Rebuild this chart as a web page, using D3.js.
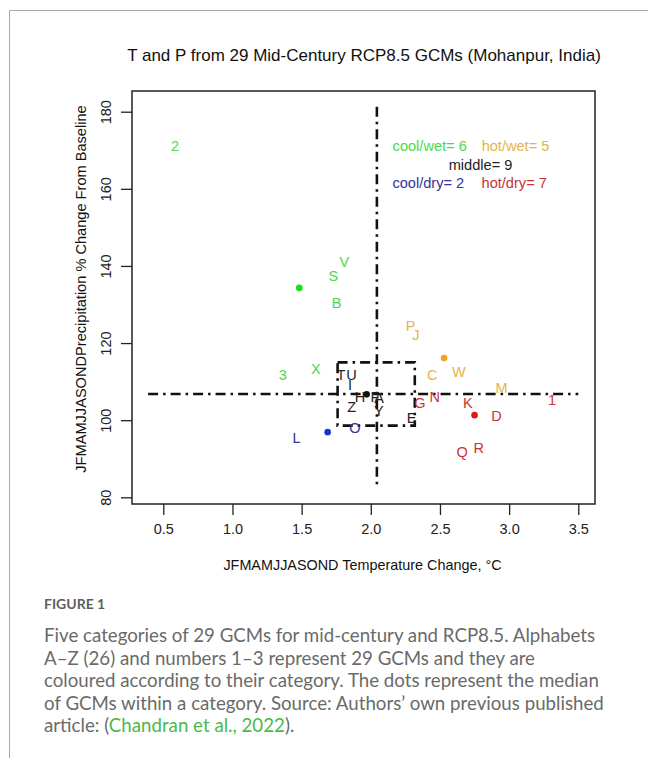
<!DOCTYPE html>
<html>
<head>
<meta charset="utf-8">
<script src="https://cdn.jsdelivr.net/npm/d3@7"></script>
<style>
  body { margin: 0; background: #fff; }
  svg { display: block; }
</style>
</head>
<body>
<svg></svg>
<script>
// GCM labels, temperature change (°C) and precipitation change (%)
var labels = ['2', 'V', 'S', 'B', '3', 'X',
              'P', 'J', 'C', 'W', 'M',
              'T', 'U', 'I', 'H', 'F', 'A', 'Z', 'Y', 'E',
              'O', 'L',
              '1', 'K', 'D', 'Q', 'R', 'N', 'G']
var tempChange = [0.585, 1.808, 1.729, 1.753, 1.363, 1.603,
                  2.288, 2.326, 2.444, 2.637, 2.945,
                  1.784, 1.861, 1.849, 1.921, 2.030, 2.060, 1.861, 2.058, 2.295,
                  1.885, 1.464,
                  3.311, 2.702, 2.909, 2.660, 2.781, 2.463, 2.355]
var precipChange = [171.1, 140.9, 137.5, 130.3, 111.7, 113.4,
                    124.4, 122.1, 111.7, 112.4, 108.3,
                    111.7, 111.7, 109.1, 105.9, 106.1, 105.7, 103.3, 102.4, 100.5,
                    97.9, 95.3,
                    105.2, 104.5, 101.2, 91.8, 92.9, 106.1, 104.4]
var category = ['cool/wet', 'cool/wet', 'cool/wet', 'cool/wet', 'cool/wet', 'cool/wet',
                'hot/wet', 'hot/wet', 'hot/wet', 'hot/wet', 'hot/wet',
                'middle', 'middle', 'middle', 'middle', 'middle', 'middle', 'middle', 'middle', 'middle',
                'cool/dry', 'cool/dry',
                'hot/dry', 'hot/dry', 'hot/dry', 'hot/dry', 'hot/dry', 'hot/dry', 'hot/dry']

// category medians (the dots)
var medianCat = ['cool/wet', 'hot/wet', 'middle', 'cool/dry', 'hot/dry']
var medianT = [1.483, 2.530, 1.970, 1.688, 2.750]
var medianP = [134.3, 116.1, 106.7, 96.9, 101.3]

var xTicks = [0.5, 1.0, 1.5, 2.0, 2.5, 3.0, 3.5]
var yTicks = [80, 100, 120, 140, 160, 180]

// threshold lines and middle box
var vLine = {x: 2.044, y0: 82.2, y1: 181.3}
var hLine = {y: 106.8, x0: 0.39, x1: 3.5}
var boxT = [1.76, 2.318], boxP = [98.6, 115.0]

var textColor = {'cool/wet': '#4cd84c', 'hot/wet': '#e5b34b', 'middle': '#222222',
                 'cool/dry': '#33339c', 'hot/dry': '#c93434'}
var dotColor = {'cool/wet': '#14e014', 'hot/wet': '#f0a326', 'middle': '#111111',
                'cool/dry': '#1534d8', 'hot/dry': '#e51616'}

var svgWidth = 648, svgHeight = 758
var frame = {left: 132, right: 595, top: 91, bottom: 504}
var plotFont = '"Liberation Sans", Arial, sans-serif'

var svg = d3.select('svg')
    .attr('width', svgWidth)
    .attr('height', svgHeight)
    .style('font-family', plotFont)

// page border (journal layout)
svg.append('path')
    .attr('d', 'M9.5,758 V10.5 H648')
    .attr('fill', 'none')
    .attr('stroke', '#a8a8a8')
    .attr('stroke-width', 1)

var xScale = d3.scaleLinear().domain([0.5, 3.5]).range([163.3, 578.3])
var yScale = d3.scaleLinear().domain([80, 180]).range([497.3, 111.7])

// title
svg.append('text')
    .attr('x', 364).attr('y', 55)
    .attr('text-anchor', 'middle').attr('dominant-baseline', 'central')
    .style('font-size', '17px').style('fill', '#111')
    .text('T and P from 29 Mid-Century RCP8.5 GCMs (Mohanpur, India)')

// plot frame
svg.append('rect')
    .attr('x', frame.left).attr('y', frame.top)
    .attr('width', frame.right - frame.left).attr('height', frame.bottom - frame.top)
    .attr('fill', 'none').attr('stroke', '#222').attr('stroke-width', 1.5)

// axes
var xAxis = svg.append('g')
    .attr('transform', 'translate(0,' + frame.bottom + ')')
    .call(d3.axisBottom(xScale).tickValues(xTicks).tickFormat(d3.format('.1f'))
        .tickSize(11).tickSizeOuter(0).tickPadding(9))
xAxis.select('.domain').remove()
xAxis.selectAll('line').attr('stroke', '#222').attr('stroke-width', 1.3)
xAxis.selectAll('text').style('font-size', '14.5px').style('fill', '#222')
    .style('font-family', plotFont)

var yAxis = svg.append('g')
    .attr('transform', 'translate(' + frame.left + ',0)')
    .call(d3.axisLeft(yScale).tickValues(yTicks).tickSize(11).tickSizeOuter(0))
yAxis.select('.domain').remove()
yAxis.selectAll('line').attr('stroke', '#222').attr('stroke-width', 1.3)
yAxis.selectAll('text')
    .attr('x', 0).attr('dy', null)
    .attr('text-anchor', 'middle').attr('dominant-baseline', 'central')
    .attr('transform', 'translate(-26,0) rotate(-90)')
    .style('font-size', '14.5px').style('fill', '#222')
    .style('font-family', plotFont)

// axis titles
svg.append('text')
    .attr('x', 362.5).attr('y', 565)
    .attr('text-anchor', 'middle').attr('dominant-baseline', 'central')
    .style('font-size', '14.4px').style('fill', '#111')
    .text('JFMAMJJASOND Temperature Change, \u00B0C')

svg.append('text')
    .attr('transform', 'translate(81,' + 289 + ') rotate(-90)')
    .attr('text-anchor', 'middle').attr('dominant-baseline', 'central')
    .style('font-size', '14.6px').style('fill', '#111')
    .text('JFMAMJJASONDPrecipitation % Change From Baseline')

// dot-dash threshold lines
var dash = '10,5,2.5,5'
svg.append('line')
    .attr('x1', xScale(vLine.x)).attr('x2', xScale(vLine.x))
    .attr('y1', yScale(vLine.y1)).attr('y2', yScale(vLine.y0))
    .attr('stroke', '#111').attr('stroke-width', 2.6).attr('stroke-dasharray', dash)
svg.append('line')
    .attr('x1', xScale(hLine.x0)).attr('x2', xScale(hLine.x1))
    .attr('y1', yScale(hLine.y)).attr('y2', yScale(hLine.y))
    .attr('stroke', '#111').attr('stroke-width', 2.6).attr('stroke-dasharray', dash)
svg.append('rect')
    .attr('x', xScale(boxT[0])).attr('y', yScale(boxP[1]))
    .attr('width', xScale(boxT[1]) - xScale(boxT[0]))
    .attr('height', yScale(boxP[0]) - yScale(boxP[1]))
    .attr('fill', 'none')
    .attr('stroke', '#111').attr('stroke-width', 2.6).attr('stroke-dasharray', dash)

// GCM letters
var pts = labels.map(function(d, i) {
    return {label: d, t: tempChange[i], p: precipChange[i], cat: category[i]}
})
svg.selectAll('text.gcm')
    .data(pts)
    .enter()
    .append('text')
    .attr('class', 'gcm')
    .attr('x', function(d) { return xScale(d.t) })
    .attr('y', function(d) { return yScale(d.p) })
    .attr('text-anchor', 'middle').attr('dominant-baseline', 'central')
    .style('font-size', '14.5px')
    .style('fill', function(d) { return textColor[d.cat] })
    .text(function(d) { return d.label })

// median dots
svg.selectAll('circle.median')
    .data(medianCat)
    .enter()
    .append('circle')
    .attr('class', 'median')
    .attr('cx', function(d, i) { return xScale(medianT[i]) })
    .attr('cy', function(d, i) { return yScale(medianP[i]) })
    .attr('r', 3.3)
    .style('fill', function(d) { return dotColor[d] })

// legend counts
var counts = d3.rollup(category, function(v) { return v.length }, function(d) { return d })
var legendItems = [
    {cat: 'cool/wet', x: 429.7, y: 146},
    {cat: 'hot/wet', x: 515.5, y: 146},
    {cat: 'middle', x: 480.5, y: 165},
    {cat: 'cool/dry', x: 428.3, y: 183.3},
    {cat: 'hot/dry', x: 514.2, y: 183.3}
]
svg.selectAll('text.legend')
    .data(legendItems)
    .enter()
    .append('text')
    .attr('class', 'legend')
    .attr('x', function(d) { return d.x })
    .attr('y', function(d) { return d.y })
    .attr('text-anchor', 'middle').attr('dominant-baseline', 'central')
    .style('font-size', '14.6px')
    .style('fill', function(d) { return textColor[d.cat] })
    .text(function(d) { return d.cat + '= ' + counts.get(d.cat) })

// caption
var capFont = 'Lato, "Open Sans", sans-serif'
svg.append('text')
    .attr('x', 44).attr('y', 609)
    .style('font-family', capFont).style('font-size', '14px').style('font-weight', 700)
    .style('fill', '#5e5e5e')
    .text('FIGURE 1')

var captionLines = [
    'Five categories of 29 GCMs for mid-century and RCP8.5. Alphabets',
    'A\u2013Z (26) and numbers 1\u20133 represent 29 GCMs and they are',
    'coloured according to their category. The dots represent the median',
    'of GCMs within a category. Source: Authors\u2019 own previous published'
]
svg.selectAll('text.caption')
    .data(captionLines)
    .enter()
    .append('text')
    .attr('class', 'caption')
    .attr('x', 44)
    .attr('y', function(d, i) { return 642 + i * 22.6 })
    .style('font-family', capFont).style('font-size', '18.7px')
    .style('fill', '#6a6a6a')
    .text(function(d) { return d })

var lastLine = svg.append('text')
    .attr('x', 44).attr('y', 642 + 4 * 22.6)
    .style('font-family', capFont).style('font-size', '18.7px')
    .style('fill', '#6a6a6a')
lastLine.append('tspan').text('article: (')
lastLine.append('tspan').style('fill', '#4bb84b').text('Chandran et al., 2022')
lastLine.append('tspan').text(').')
</script>
</body>
</html>
